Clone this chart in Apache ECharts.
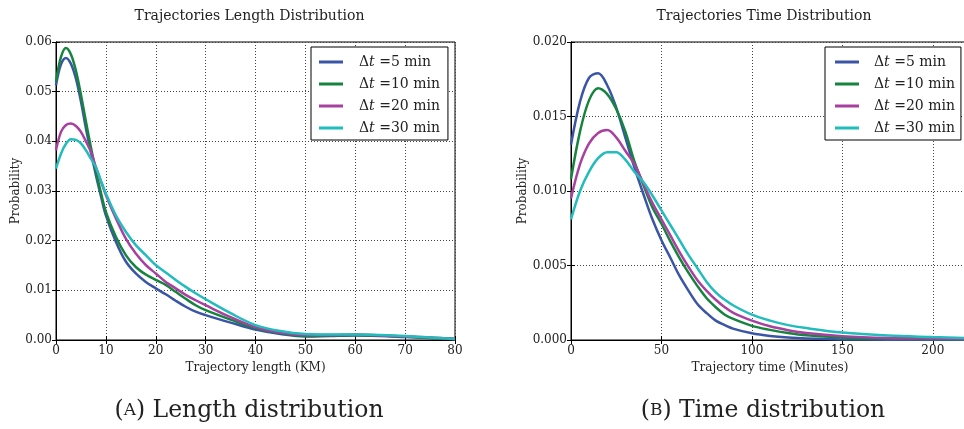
<!DOCTYPE html>
<html>
<head>
<meta charset="utf-8">
<script src="https://cdn.jsdelivr.net/npm/echarts@6/dist/echarts.min.js"></script>
<style>html,body{margin:0;padding:0;background:#fff}#c{width:964px;height:429px}</style>
</head>
<body>
<div id="c"></div>
<script>
// ---- Data ----
const seriesNames = ['dt5', 'dt10', 'dt20', 'dt30'];
const legendLabels = ['5', '10', '20', '30'];

const lengthKm = [0,1,2,3,4,5,6,7,8,9,10,12,14,16,18,20,22,24,26,28,30,35,40,45,50,55,60,65,70,75,80];
const lenDt5  = [0.0513,0.0555,0.0568,0.0556,0.0526,0.0480,0.0426,0.0378,0.0332,0.0290,0.0251,0.0198,0.0158,0.0134,0.0117,0.0104,0.0092,0.0079,0.0067,0.0057,0.0050,0.0035,0.0021,0.0012,0.0007,0.0008,0.0009,0.0008,0.0006,0.0004,0.0002];
const lenDt10 = [0.0520,0.0570,0.0588,0.0575,0.0542,0.0494,0.0440,0.0388,0.0340,0.0297,0.0258,0.0208,0.0171,0.0147,0.0132,0.0121,0.0111,0.0097,0.0083,0.0070,0.0060,0.0041,0.0024,0.0014,0.0008,0.0009,0.0010,0.0009,0.0007,0.0004,0.0002];
const lenDt20 = [0.0382,0.0419,0.0433,0.0436,0.0431,0.0419,0.0400,0.0379,0.0348,0.0320,0.0292,0.0245,0.0204,0.0174,0.0151,0.0134,0.0117,0.0104,0.0091,0.0080,0.0070,0.0046,0.0026,0.0015,0.0010,0.0010,0.0011,0.0009,0.0007,0.0005,0.0002];
const lenDt30 = [0.0345,0.0375,0.0395,0.0404,0.0403,0.0396,0.0382,0.0365,0.0348,0.0321,0.0295,0.0251,0.0218,0.0191,0.0171,0.0151,0.0136,0.0121,0.0107,0.0094,0.0082,0.0054,0.0030,0.0018,0.0012,0.0011,0.0011,0.0010,0.0008,0.0005,0.0002];

const timeMin = [0,5,10,15,20,25,30,35,40,45,50,55,60,65,70,75,80,85,90,100,110,120,130,150,175,200,220];
const timeDt5  = [0.0131,0.0160,0.0176,0.0179,0.0171,0.0156,0.0136,0.0116,0.0098,0.0081,0.0067,0.0055,0.0043,0.0033,0.0024,0.0018,0.0013,0.0010,0.00075,0.00045,0.00027,0.00016,0.0001,0.00004,0.00002,0.00001,0.00001];
const timeDt10 = [0.0108,0.0140,0.0161,0.0169,0.0165,0.0155,0.0140,0.0120,0.0104,0.0089,0.0078,0.0066,0.0055,0.0045,0.0036,0.0028,0.0022,0.0017,0.0014,0.00095,0.00068,0.00047,0.00032,0.00017,0.0001,0.00006,0.00004];
const timeDt20 = [0.0095,0.0118,0.0132,0.0139,0.0141,0.0136,0.0127,0.0118,0.0105,0.0092,0.0081,0.0070,0.0059,0.0049,0.0040,0.0033,0.0027,0.0022,0.0018,0.0013,0.00092,0.00066,0.00047,0.00026,0.00014,0.0001,0.00007];
const timeDt30 = [0.0081,0.0100,0.0113,0.0122,0.0126,0.0126,0.0121,0.0113,0.0106,0.0097,0.0087,0.0077,0.0067,0.0057,0.0048,0.0039,0.0032,0.0027,0.0023,0.0017,0.0013,0.0010,0.0008,0.0005,0.0003,0.0002,0.00013];

const lenTicks = [0,10,20,30,40,50,60,70,80];
const timeTicks = [0,50,100,150,200];

// ---- Styling ----
const colors = ['#3a55a6', '#16843f', '#a8409f', '#22bcbc'];
const FONT = 'DejaVu Serif';
const LINE_ICON = 'path://M0,0h0.01v0.01h-0.01z M0,5.6h24v2.8h-24z M23.99,13.99h0.01v0.01h-0.01z';

function pairs(xs, ys) { return xs.map((x, i) => [x, ys[i]]); }

const lenSeries = [lenDt5, lenDt10, lenDt20, lenDt30];
const timeSeries = [timeDt5, timeDt10, timeDt20, timeDt30];

const series = [];
lenSeries.forEach((ys, i) => series.push({
  name: seriesNames[i], type: 'line', xAxisIndex: 0, yAxisIndex: 0,
  data: pairs(lengthKm, ys), smooth: 0.35, symbol: 'none', showSymbol: false,
  lineStyle: { width: 2.5, color: colors[i] }, itemStyle: { color: colors[i] }, z: 3, clip: true
}));
timeSeries.forEach((ys, i) => series.push({
  name: seriesNames[i], type: 'line', xAxisIndex: 2, yAxisIndex: 2,
  data: pairs(timeMin, ys), smooth: 0.35, symbol: 'none', showSymbol: false,
  lineStyle: { width: 2.5, color: colors[i] }, itemStyle: { color: colors[i] }, z: 3, clip: true
}));

const labelStyle = { fontFamily: FONT, fontSize: 12, color: '#222' };
const splitLine = { show: true, lineStyle: { color: '#444', type: [1, 2], width: 1 } };
const axisLine = { show: true, lineStyle: { color: '#000', width: 1 } };
const tick = { show: true, inside: true, length: 4, lineStyle: { color: '#000' } };

function xAxes(gridIndex, min, max, interval, ticks, name) {
  return [
    { type: 'value', gridIndex, min, max, interval, position: 'bottom',
      name, nameLocation: 'middle', nameGap: 19,
      nameTextStyle: { fontFamily: FONT, fontSize: 12, color: '#222' },
      axisLine, axisTick: tick, splitLine,
      axisLabel: Object.assign({ margin: 5, formatter: v => ticks.indexOf(v) >= 0 ? String(v) : '' }, labelStyle) },
    { type: 'value', gridIndex, min, max, interval, position: 'top',
      axisLine, axisTick: tick, splitLine: { show: false }, axisLabel: { show: false } }
  ];
}
function yAxes(gridIndex, max, interval, digits) {
  return [
    { type: 'value', gridIndex, min: 0, max, interval, position: 'left',
      name: 'Probability', nameLocation: 'middle', nameGap: 34, nameRotate: 90,
      nameTextStyle: { fontFamily: FONT, fontSize: 12, color: '#222' },
      axisLine, axisTick: tick, splitLine,
      axisLabel: Object.assign({ margin: 4, formatter: v => v.toFixed(digits) }, labelStyle) },
    { type: 'value', gridIndex, min: 0, max, interval, position: 'right',
      axisLine, axisTick: tick, splitLine: { show: false }, axisLabel: { show: false } }
  ];
}

function legendData() {
  return seriesNames.map((n, i) => ({ name: n, icon: LINE_ICON, itemStyle: { color: colors[i] } }));
}
function legendFmt() {
  return name => {
    const i = seriesNames.indexOf(name);
    return '{g| }{d|Δ}{i|t}{d| =' + legendLabels[i] + ' min}';
  };
}
function legendRich(gap) {
  return {
    g: { width: gap, fontSize: 14 },
    d: { fontFamily: FONT, fontSize: 14, color: '#222' },
    i: { fontFamily: FONT, fontSize: 14, fontStyle: 'italic', color: '#222' }
  };
}

const option = {
  animation: false,
  backgroundColor: '#fff',
  title: [
    { text: 'Trajectories Length Distribution', left: 249.5, top: 9, textAlign: 'center', padding: 0,
      textStyle: { fontFamily: FONT, fontSize: 14, fontWeight: 'normal', color: '#222' } },
    { text: 'Trajectories Time Distribution', left: 764, top: 9, textAlign: 'center', padding: 0,
      textStyle: { fontFamily: FONT, fontSize: 14, fontWeight: 'normal', color: '#222' } }
  ],
  grid: [
    { left: 56, top: 42, width: 399, height: 298, show: true, borderColor: '#000', borderWidth: 1, outerBoundsMode: 'none', containLabel: false },
    { left: 571, top: 42, width: 398, height: 298, show: true, borderColor: '#000', borderWidth: 1, outerBoundsMode: 'none', containLabel: false }
  ],
  xAxis: [].concat(xAxes(0, 0, 80, 10, lenTicks, 'Trajectory length (KM)'),
                  xAxes(1, 0, 220, 50, timeTicks, 'Trajectory time (Minutes)')),
  yAxis: [].concat(yAxes(0, 0.06, 0.01, 2), yAxes(1, 0.02, 0.005, 3)),
  legend: [
    { left: 311, top: 47, orient: 'vertical', data: legendData(), itemWidth: 24, itemHeight: 14, itemGap: 8,
      padding: [8, 8, 5, 8], borderColor: '#000', borderWidth: 1, backgroundColor: '#fff',
      formatter: legendFmt(), textStyle: { rich: legendRich(11) }, selectedMode: false },
    { left: 825, top: 47, orient: 'vertical', data: legendData(), itemWidth: 24, itemHeight: 14, itemGap: 8,
      padding: [8, 6, 5, 10], borderColor: '#000', borderWidth: 1, backgroundColor: '#fff',
      formatter: legendFmt(), textStyle: { rich: legendRich(10) }, selectedMode: false }
  ],
  graphic: [
    { type: 'text', x: 249, y: 411, silent: true,
      style: { text: '({s|A}) Length distribution', x: 0, y: 0, align: 'center', verticalAlign: 'middle',
        font: '23.5px "DejaVu Serif"', fill: '#222',
        rich: { s: { fontFamily: FONT, fontSize: 17, fill: '#222' } } } },
    { type: 'text', x: 763, y: 411, silent: true,
      style: { text: '({s|B}) Time distribution', x: 0, y: 0, align: 'center', verticalAlign: 'middle',
        font: '23.5px "DejaVu Serif"', fill: '#222',
        rich: { s: { fontFamily: FONT, fontSize: 17, fill: '#222' } } } }
  ],
  series
};

const chart = echarts.init(document.getElementById('c'), null, { renderer: 'canvas' });
chart.setOption(option);
</script>
</body>
</html>
